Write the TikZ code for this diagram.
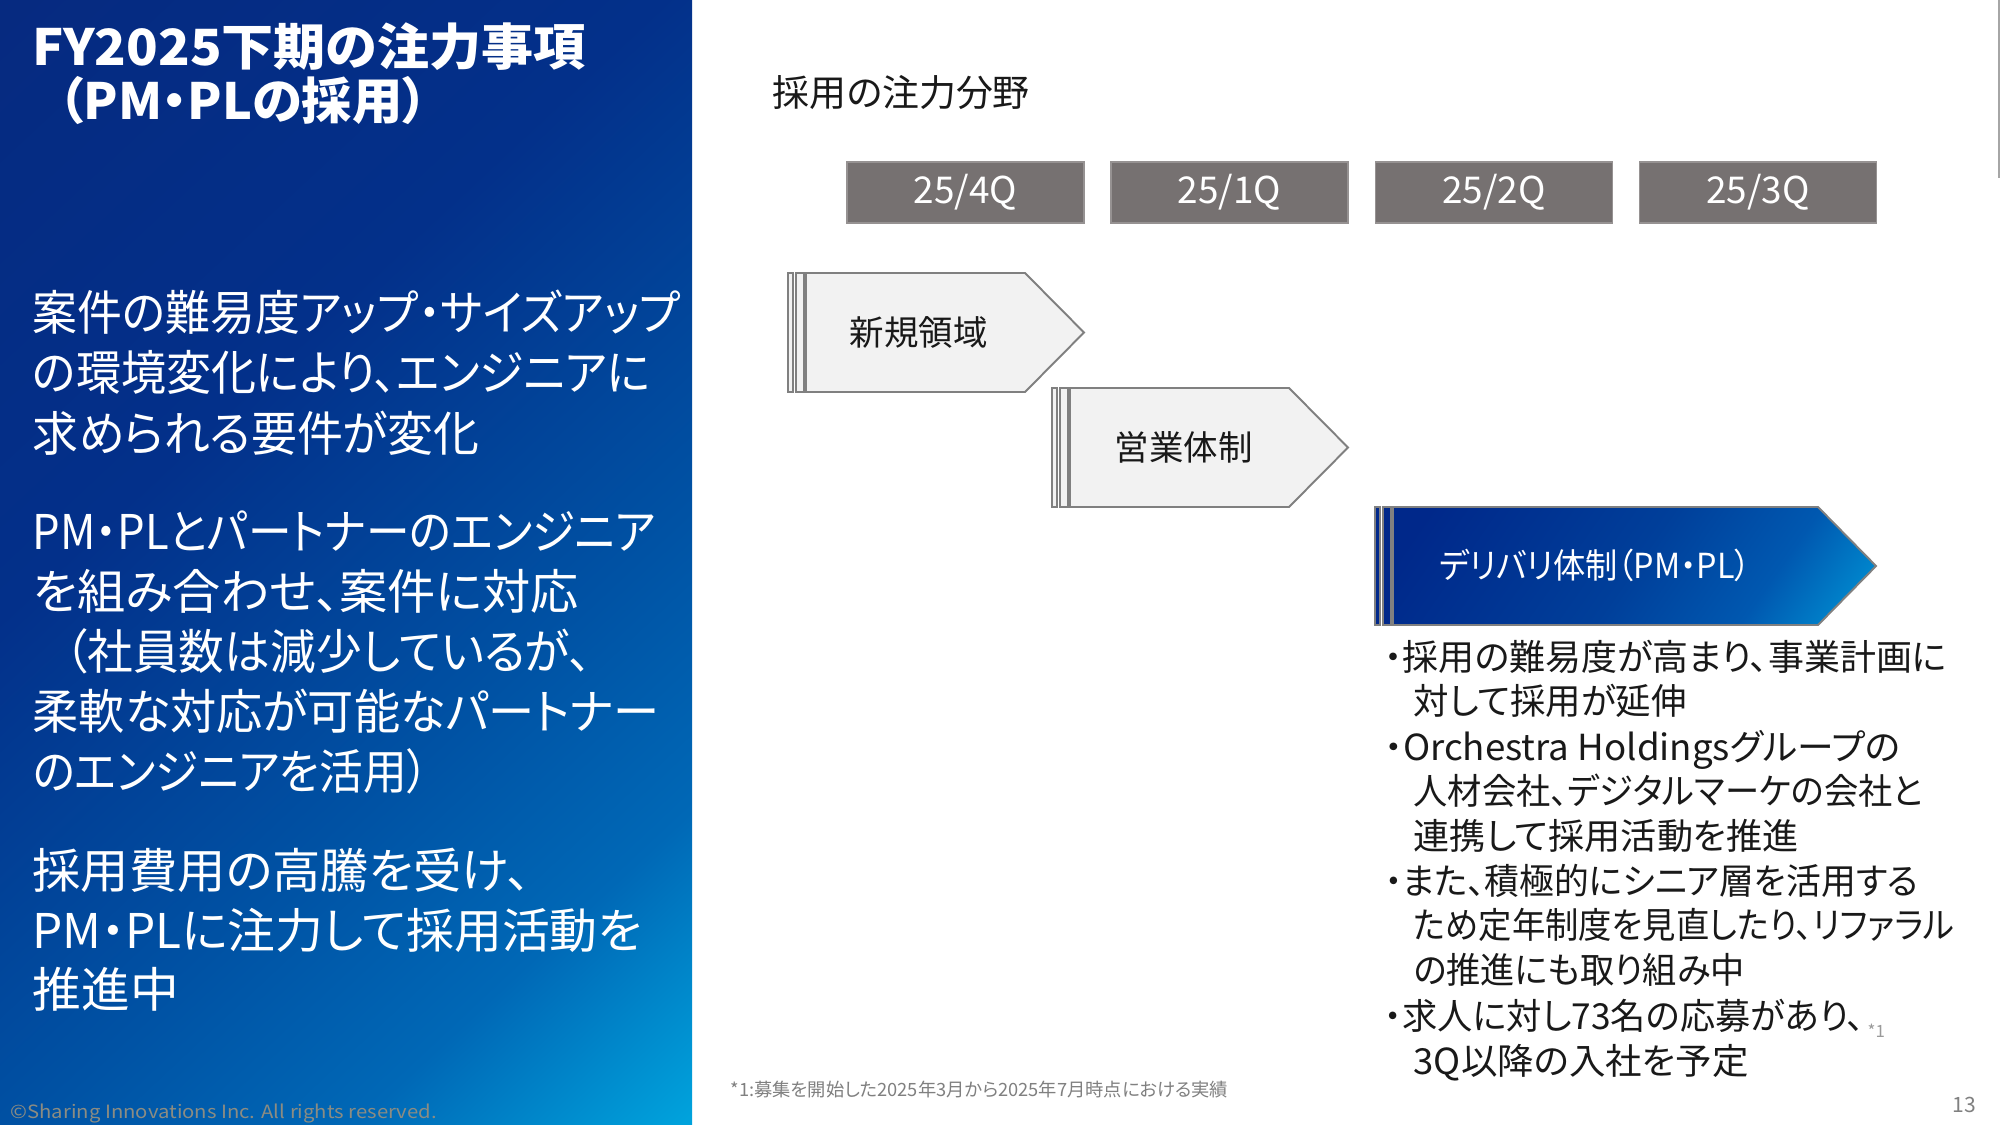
\documentclass[tikz,border=0pt]{standalone}
\usepackage{fontspec}
\usepackage{graphicx}
\setmainfont{Noto Sans CJK JP}[RawFeature={+palt}]
\newlength\pxu
\setlength\pxu{0.01cm}
\newcommand\fitw[2]{\resizebox{#1\pxu}{\height}{#2}}
\definecolor{navyc}{RGB}{6,42,128}
\definecolor{navyb}{RGB}{3,48,138}
\definecolor{midc}{RGB}{0,82,164}
\definecolor{midd}{RGB}{0,104,182}
\definecolor{cyanc}{RGB}{0,162,220}
\definecolor{anavy}{RGB}{0,40,138}
\definecolor{amid}{RGB}{0,63,154}
\definecolor{amid2}{RGB}{0,88,176}
\definecolor{acyan}{RGB}{0,152,216}
\definecolor{qgray}{RGB}{118,113,113}
\definecolor{qedge}{RGB}{150,146,146}
\definecolor{aedge}{RGB}{128,128,128}
\definecolor{afill}{RGB}{242,242,242}
\definecolor{txtc}{RGB}{25,25,25}
\definecolor{notec}{RGB}{128,128,128}
\definecolor{copyc}{RGB}{140,140,130}
\pgfdeclareverticalshading{panelshade}{100bp}{color(0bp)=(cyanc); color(27bp)=(cyanc); color(35bp)=(midd); color(43bp)=(midc); color(57bp)=(navyb); color(73bp)=(navyc); color(100bp)=(navyc)}
\pgfdeclareverticalshading{arrowshade}{100bp}{color(0bp)=(acyan); color(27bp)=(acyan); color(38bp)=(amid2); color(50bp)=(amid); color(70bp)=(anavy); color(100bp)=(anavy)}
\tikzset{
  lt/.style={anchor=west, inner sep=0pt},
  ttl/.style={lt, text=white, font=\fontsize{14.2pt}{16pt}\selectfont\bfseries, text height=11.4pt, text depth=1.7pt},
  body/.style={lt, text=white, font=\fontsize{13.6pt}{16pt}\selectfont, text height=10.9pt, text depth=1.63pt},
  blt/.style={lt, text=txtc, font=\fontsize{10.2pt}{12pt}\selectfont, text height=8.16pt, text depth=1.22pt},
  qbox/.style={fill=qgray, draw=qedge, line width=0.3pt, minimum width=237\pxu, minimum height=61\pxu, inner sep=0pt, text=white, font=\fontsize{10.5pt}{12pt}\selectfont},
  aline/.style={draw=aedge, line width=0.55pt},
  albl/.style={lt, font=\fontsize{9.8pt}{12pt}\selectfont, text height=7.84pt, text depth=1.18pt},
  small/.style={lt, font=\fontsize{5.2pt}{6pt}\selectfont, text height=4.16pt, text depth=0.62pt},
}
\begin{document}
\begin{tikzpicture}[x=0.01cm,y=-0.01cm]
\useasboundingbox (0,0) rectangle (2001,1125);
\fill[white] (0,0) rectangle (2001,1125);
% left panel
\begin{scope}
\clip (0,0) rectangle (692,1125);
\shade[shading=panelshade, shading angle=43] (-354,-137.5) rectangle (1046,1262.5);
\end{scope}
\node[ttl] (t1) at (32,48) {\fitw{553}{FY2025下期の注力事項}};
\node[ttl] (t2) at (58,102) {\fitw{369}{（PM・PLの採用）}};
\node[body] (b1) at (32,314) {\fitw{648}{案件の難易度アップ・サイズアップ}};
\node[body] (b2) at (32,374) {\fitw{618}{の環境変化により、エンジニアに}};
\node[body] (b3) at (32,435) {\fitw{447}{求められる要件が変化}};
\node[body] (b4) at (32,533) {\fitw{623}{PM・PLとパートナーのエンジニア}};
\node[body] (b5) at (32,593) {\fitw{546}{を組み合わせ、案件に対応}};
\node[body] (b6) at (64,653) {\fitw{527}{（社員数は減少しているが、}};
\node[body] (b7) at (32,713) {\fitw{627}{柔軟な対応が可能なパートナー}};
\node[body] (b8) at (32,773) {\fitw{396}{のエンジニアを活用）}};
\node[body] (b9) at (32,872) {\fitw{498}{採用費用の高騰を受け、}};
\node[body] (b10) at (32,932) {\fitw{609}{PM・PLに注力して採用活動を}};
\node[body] (b11) at (32,991) {\fitw{146}{推進中}};
\node[small, text=copyc] (copy) at (10,1112) {\fitw{426}{©Sharing Innovations Inc. All rights reserved.}};
% right edge line
\draw[gray!70, line width=0.4pt] (1999,0) -- (1999,178);
% heading
\node[lt, text=txtc, font=\fontsize{10.5pt}{12pt}\selectfont, text height=8.4pt, text depth=1.26pt] (head) at (772,94) {採用の注力分野};
% quarter boxes
\node[qbox] (q4) at (965.5,192.5) {25/4Q};
\node[qbox] (q1) at (1229.5,192.5) {25/1Q};
\node[qbox] (q2) at (1494,192.5) {25/2Q};
\node[qbox] (q3) at (1758,192.5) {25/3Q};
% arrow 1
\path[aline, fill=afill] (788,273) rectangle (793,392);
\path[aline, fill=afill] (796,273) rectangle (804,392);
\path[aline, fill=afill] (806,273) -- (1025,273) -- (1084,332.5) -- (1025,392) -- (806,392) -- cycle;
\node[albl, text=txtc] (a1) at (849,334) {新規領域};
% arrow 2
\path[aline, fill=afill] (1052,388) rectangle (1057,507);
\path[aline, fill=afill] (1060,388) rectangle (1068,507);
\path[aline, fill=afill] (1070,388) -- (1289,388) -- (1348,447.5) -- (1289,507) -- (1070,507) -- cycle;
\node[albl, text=txtc] (a2) at (1114,449) {営業体制};
% arrow 3
\path[aline, fill=anavy] (1375,507) rectangle (1380,625);
\path[aline, fill=anavy] (1383,507) rectangle (1391,625);
\begin{scope}
\clip (1393,507) -- (1818,507) -- (1876,566) -- (1818,625) -- (1393,625) -- cycle;
\shade[shading=arrowshade, shading angle=55] (1384.5,316) rectangle (1884.5,816);
\end{scope}
\path[aline] (1393,507) -- (1818,507) -- (1876,566) -- (1818,625) -- (1393,625) -- cycle;
\node[albl, text=white] (a3) at (1439,567) {\fitw{311}{デリバリ体制（PM・PL）}};
% bullets
\node[blt] (r1) at (1384,658) {\fitw{562}{・採用の難易度が高まり、事業計画に}};
\node[blt] (r2) at (1413,702) {\fitw{273}{対して採用が延伸}};
\node[blt] (r3) at (1384,748) {\fitw{516}{・Orchestra Holdingsグループの}};
\node[blt] (r4) at (1413,792) {\fitw{509}{人材会社、デジタルマーケの会社と}};
\node[blt] (r5) at (1413,837) {\fitw{385}{連携して採用活動を推進}};
\node[blt] (r6) at (1384,882) {\fitw{534}{・また、積極的にシニア層を活用する}};
\node[blt] (r7) at (1413,926) {\fitw{541}{ため定年制度を見直したり、リファラル}};
\node[blt] (r8) at (1413,971) {\fitw{331}{の推進にも取り組み中}};
\node[blt] (r9) at (1384,1017) {\fitw{480}{・求人に対し73名の応募があり、}};
\node[blt] (r10) at (1413,1062) {\fitw{335}{3Q以降の入社を予定}};
\node[lt, text=notec!80, font=\fontsize{4.8pt}{6pt}\selectfont, text height=3.84pt, text depth=0.58pt] (sup) at (1867,1032) {*1};
% footnote
\node[small, text=notec] (fn) at (730,1090) {*1:募集を開始した2025年3月から2025年7月時点における実績};
\node[lt, text=notec, font=\fontsize{6pt}{7pt}\selectfont, text height=4.8pt, text depth=0.72pt] (pg) at (1952,1105) {13};
\end{tikzpicture}
\end{document}
